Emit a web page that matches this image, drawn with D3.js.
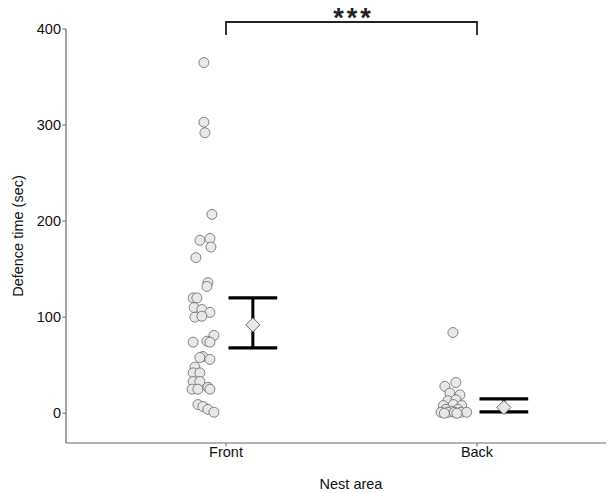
<!DOCTYPE html>
<html><head><meta charset="utf-8">
<script src="https://cdn.jsdelivr.net/npm/d3@7/dist/d3.min.js"></script>
<style>body{margin:0;background:#fff}svg{display:block}text{font-family:"Liberation Sans",Arial,Helvetica,sans-serif}</style>
</head><body><div id="chart"></div>
<script>
// ---- data ----
const categories = ["Front", "Back"];
const frontValues = [365, 303, 292, 207, 180, 182, 173, 162, 136, 132, 120, 120, 110, 108, 105, 100, 101,
  81, 75, 74, 74, 59, 58, 56, 48, 42, 42, 33, 33, 27, 25, 25, 25, 9, 7, 4, 1];
const frontJitter = [-0.088, -0.088, -0.084, -0.056, -0.104, -0.064, -0.060, -0.120, -0.072, -0.076, -0.131, -0.116, -0.127, -0.096, -0.064, -0.124, -0.096,
  -0.048, -0.076, -0.131, -0.064, -0.092, -0.104, -0.064, -0.124, -0.131, -0.104, -0.131, -0.104, -0.072, -0.135, -0.112, -0.064, -0.112, -0.092, -0.072, -0.048];
const backValues = [84, 32, 28, 21, 19, 13, 14, 8, 9, 8, 4, 4, 2, 1, 1, 1, 1, 1, 0, 0];
const backJitter = [-0.096, -0.084, -0.128, -0.108, -0.068, -0.116, -0.084, -0.134, -0.094, -0.061, -0.124, -0.076, -0.100, -0.143, -0.116, -0.090, -0.064, -0.041, -0.130, -0.080];
const summaryMean = [92, 6];
const summaryLower = [68, 1.5];
const summaryUpper = [120, 15];
const yTicks = [0, 100, 200, 300, 400];
const sigLabel = "***";

// ---- layout ----
const W = 608, H = 493;
const svg = d3.select("#chart").append("svg").attr("width", W).attr("height", H);
const mLeft = 66, mRight = 606, mTop = 29, mBottom = 443;

const x = d3.scaleLinear().domain([1, 2]).range([226, 477]);
const y = d3.scaleLinear().domain([-31, 400]).range([mBottom, mTop]);
const pos = c => categories.indexOf(c) + 1;

const axisColor = "#6a6a6a";
svg.append("line").attr("x1", mLeft).attr("x2", mLeft).attr("y1", mTop).attr("y2", mBottom)
  .attr("stroke", axisColor).attr("stroke-width", 1.2);
svg.append("line").attr("x1", mLeft).attr("x2", mRight).attr("y1", mBottom).attr("y2", mBottom)
  .attr("stroke", axisColor).attr("stroke-width", 1.2);

yTicks.forEach(t => {
  svg.append("line").attr("x1", mLeft - 3.5).attr("x2", mLeft).attr("y1", y(t)).attr("y2", y(t))
    .attr("stroke", axisColor).attr("stroke-width", 1);
  svg.append("text").attr("x", mLeft - 5).attr("y", y(t)).attr("dy", "0.36em")
    .attr("text-anchor", "end").attr("font-size", 14.5).attr("fill", "#111").text(t);
});
categories.forEach(c => {
  svg.append("line").attr("x1", x(pos(c))).attr("x2", x(pos(c))).attr("y1", mBottom).attr("y2", mBottom + 3.5)
    .attr("stroke", axisColor).attr("stroke-width", 1);
  svg.append("text").attr("x", x(pos(c))).attr("y", 457).attr("text-anchor", "middle")
    .attr("font-size", 14.5).attr("fill", "#111").text(c);
});
svg.append("text").attr("x", (mLeft + mRight) / 2 + 15).attr("y", 489).attr("text-anchor", "middle")
  .attr("font-size", 14.5).attr("fill", "#111").text("Nest area");
svg.append("text").attr("transform", `translate(23,${(mTop + mBottom) / 2}) rotate(-90)`)
  .attr("text-anchor", "middle").attr("font-size", 14.5).attr("fill", "#111").text("Defence time (sec)");

// points
const pts = [];
frontValues.forEach((v, i) => pts.push({ c: "Front", v, j: frontJitter[i] }));
backValues.forEach((v, i) => pts.push({ c: "Back", v, j: backJitter[i] }));
svg.append("g").selectAll("circle").data(pts).join("circle")
  .attr("cx", d => x(pos(d.c) + d.j)).attr("cy", d => y(d.v)).attr("r", 5)
  .attr("fill", "#e8e8e8").attr("stroke", "#555").attr("stroke-width", 0.7);

// summary error bars
const dodge = 0.107, capHalf = 0.097;
categories.forEach((c, i) => {
  const cx = pos(c) + dodge;
  const g = svg.append("g");
  g.append("line").attr("x1", x(cx)).attr("x2", x(cx)).attr("y1", y(summaryLower[i])).attr("y2", y(summaryUpper[i]))
    .attr("stroke", "#000").attr("stroke-width", 3);
  [summaryLower[i], summaryUpper[i]].forEach(v => {
    g.append("line").attr("x1", x(cx - capHalf)).attr("x2", x(cx + capHalf)).attr("y1", y(v)).attr("y2", y(v))
      .attr("stroke", "#000").attr("stroke-width", 3.2);
  });
  g.append("path")
    .attr("d", d3.symbol(d3.symbolSquare, 100)())
    .attr("transform", `translate(${x(cx)},${y(summaryMean[i])}) rotate(45)`)
    .attr("fill", "#e8e8e8").attr("stroke", "#555").attr("stroke-width", 0.8);
});

// significance bracket
const by = 22, bdrop = 13;
svg.append("path")
  .attr("d", `M${x(1)},${by + bdrop}V${by}H${x(2)}V${by + bdrop}`)
  .attr("fill", "none").attr("stroke", "#222").attr("stroke-width", 1.8);
svg.append("text").attr("x", (x(1) + x(2)) / 2 + 2).attr("y", 27).attr("text-anchor", "middle")
  .attr("font-size", 27).attr("font-weight", "bold").attr("letter-spacing", 3).attr("fill", "#222").text(sigLabel);
</script></body></html>
